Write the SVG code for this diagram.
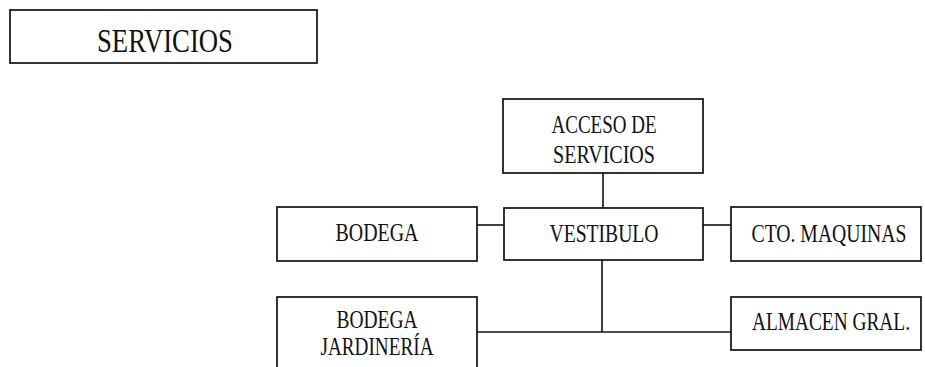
<svg xmlns="http://www.w3.org/2000/svg" width="925" height="367" viewBox="0 0 925 367">
<style>
.box{fill:#fff;stroke:#111;stroke-width:1.7}
.t{font-family:"Liberation Serif","Times New Roman",serif;font-size:26px;fill:#111;text-anchor:middle}
.title{font-size:34px}
.c{stroke:#111;stroke-width:1.6;fill:none}
</style>
<rect width="925" height="367" fill="#fff"/>
<g id="connectors">
<line class="c" x1="603" y1="173" x2="603" y2="208"/>
<line class="c" x1="477" y1="225" x2="504" y2="225"/>
<line class="c" x1="703" y1="225" x2="731" y2="225"/>
<line class="c" x1="602" y1="260" x2="602" y2="332"/>
<line class="c" x1="477" y1="332" x2="731" y2="332"/>
</g>
<g id="servicios-title">
<rect class="box" x="10" y="10" width="307" height="53"/>
<text class="t title" x="165" y="52" textLength="136" lengthAdjust="spacingAndGlyphs">SERVICIOS</text>
</g>
<g id="acceso">
<rect class="box" x="503" y="99" width="200" height="74"/>
<text class="t" x="604" y="133" textLength="105" lengthAdjust="spacingAndGlyphs">ACCESO DE</text>
<text class="t" x="604" y="163" textLength="102" lengthAdjust="spacingAndGlyphs">SERVICIOS</text>
</g>
<g id="vestibulo">
<rect class="box" x="504" y="208" width="199" height="52"/>
<text class="t" x="604" y="242" textLength="109" lengthAdjust="spacingAndGlyphs">VESTIBULO</text>
</g>
<g id="bodega">
<rect class="box" x="277" y="207" width="200" height="54"/>
<text class="t" x="377" y="241" textLength="83" lengthAdjust="spacingAndGlyphs">BODEGA</text>
</g>
<g id="cto-maquinas">
<rect class="box" x="731" y="207" width="190" height="54"/>
<text class="t" x="829" y="242" textLength="155" lengthAdjust="spacingAndGlyphs">CTO. MAQUINAS</text>
</g>
<g id="bodega-jardineria">
<rect class="box" x="277" y="297" width="200" height="90"/>
<text class="t" x="377" y="328" textLength="81" lengthAdjust="spacingAndGlyphs">BODEGA</text>
<text class="t" x="377" y="355" textLength="113" lengthAdjust="spacingAndGlyphs">JARDINERÍA</text>
</g>
<g id="almacen">
<rect class="box" x="731" y="297" width="190" height="53"/>
<text class="t" x="831" y="330" textLength="158" lengthAdjust="spacingAndGlyphs">ALMACEN GRAL.</text>
</g>
</svg>
